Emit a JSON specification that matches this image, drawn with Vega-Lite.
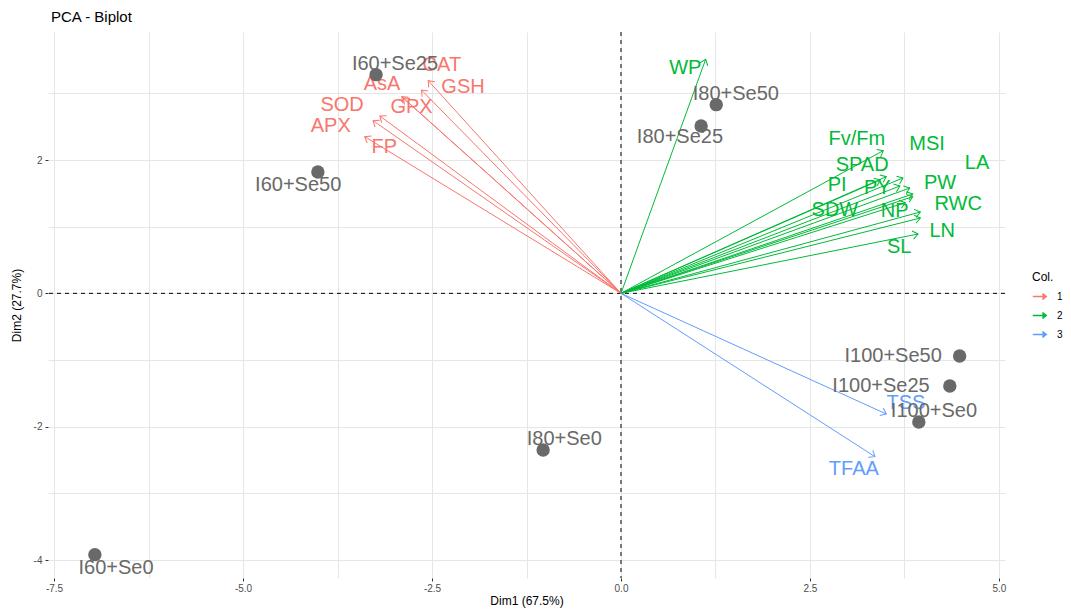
{
  "$schema": "https://vega.github.io/schema/vega-lite/v6.json",
  "autosize": {"type": "none"},
  "padding": {"left": 48, "top": 32, "right": 66, "bottom": 32},
  "width": 957,
  "height": 546,
  "background": "white",
  "config": {
    "view": {"stroke": null},
    "font": "Liberation Sans",
    "axis": {
      "grid": true,
      "gridColor": "#E6E6E6",
      "gridWidth": 1,
      "gridOpacity": 1,
      "domain": false,
      "tickColor": "#333333",
      "tickSize": 3,
      "labelColor": "#4D4D4D",
      "labelFontSize": 10,
      "labelFont": "Liberation Sans",
      "titleFont": "Liberation Sans",
      "titleFontSize": 12,
      "titleFontWeight": "normal",
      "titleColor": "#000000"
    }
  },
  "title": {
    "text": "PCA - Biplot",
    "anchor": "start",
    "frame": "group",
    "offset": 7,
    "fontSize": 15,
    "fontWeight": "normal",
    "font": "Liberation Sans",
    "color": "#000000",
    "dx": 3
  },
  "datasets": {
    "ind": [
      {"name": "I60+Se0", "x": -6.96, "y": -3.92, "lx": -6.68, "ly": -4.12},
      {"name": "I60+Se25", "x": -3.24, "y": 3.28, "lx": -2.99, "ly": 3.44},
      {"name": "I60+Se50", "x": -4.01, "y": 1.82, "lx": -4.27, "ly": 1.63},
      {"name": "I80+Se0", "x": -1.03, "y": -2.35, "lx": -0.75, "ly": -2.18},
      {"name": "I80+Se25", "x": 1.06, "y": 2.51, "lx": 0.78, "ly": 2.34},
      {"name": "I80+Se50", "x": 1.26, "y": 2.83, "lx": 1.52, "ly": 2.99},
      {"name": "I100+Se0", "x": 3.94, "y": -1.93, "lx": 4.14, "ly": -1.76},
      {"name": "I100+Se25", "x": 4.35, "y": -1.39, "lx": 3.44, "ly": -1.39},
      {"name": "I100+Se50", "x": 4.48, "y": -0.94, "lx": 3.6, "ly": -0.94}
    ],
    "var": [
      {"name": "CAT", "grp": "1", "x": -2.55, "y": 3.19, "lx": -2.37, "ly": 3.43},
      {"name": "GSH", "grp": "1", "x": -2.64, "y": 3.05, "lx": -2.09, "ly": 3.1},
      {"name": "AsA", "grp": "1", "x": -2.9, "y": 2.95, "lx": -3.16, "ly": 3.14},
      {"name": "GPX", "grp": "1", "x": -2.88, "y": 2.93, "lx": -2.77, "ly": 2.79},
      {"name": "SOD", "grp": "1", "x": -3.19, "y": 2.66, "lx": -3.69, "ly": 2.83},
      {"name": "APX", "grp": "1", "x": -3.28, "y": 2.59, "lx": -3.84, "ly": 2.51},
      {"name": "FP", "grp": "1", "x": -3.39, "y": 2.35, "lx": -3.13, "ly": 2.19},
      {"name": "WP", "grp": "2", "x": 1.12, "y": 3.51, "lx": 0.85, "ly": 3.38},
      {"name": "Fv/Fm", "grp": "2", "x": 3.47, "y": 2.14, "lx": 3.12, "ly": 2.32},
      {"name": "SPAD", "grp": "2", "x": 3.51, "y": 1.75, "lx": 3.19, "ly": 1.93},
      {"name": "PI", "grp": "2", "x": 3.43, "y": 1.7, "lx": 2.86, "ly": 1.63},
      {"name": "MSI", "grp": "2", "x": 3.73, "y": 1.73, "lx": 4.05, "ly": 2.24},
      {"name": "PY", "grp": "2", "x": 3.69, "y": 1.61, "lx": 3.39, "ly": 1.58},
      {"name": "LA", "grp": "2", "x": 3.82, "y": 1.58, "lx": 4.71, "ly": 1.96},
      {"name": "PW", "grp": "2", "x": 3.86, "y": 1.49, "lx": 4.22, "ly": 1.66},
      {"name": "RWC", "grp": "2", "x": 3.86, "y": 1.45, "lx": 4.46, "ly": 1.34},
      {"name": "SDW", "grp": "2", "x": 3.76, "y": 1.36, "lx": 2.83, "ly": 1.25},
      {"name": "NP", "grp": "2", "x": 3.96, "y": 1.22, "lx": 3.62, "ly": 1.23},
      {"name": "LN", "grp": "2", "x": 3.96, "y": 1.13, "lx": 4.25, "ly": 0.94},
      {"name": "SL", "grp": "2", "x": 3.93, "y": 0.89, "lx": 3.68, "ly": 0.7},
      {"name": "TSS", "grp": "3", "x": 3.51, "y": -1.81, "lx": 3.77, "ly": -1.64},
      {"name": "TFAA", "grp": "3", "x": 3.36, "y": -2.45, "lx": 3.08, "ly": -2.63}
    ]
  },
  "encoding": {
    "x": {
      "type": "quantitative",
      "scale": {"domain": [-7.58, 5.08], "nice": false, "zero": false},
      "axis": {
        "title": "Dim1 (67.5%)",
        "grid": true,
        "values": [-7.5, -6.25, -5, -3.75, -2.5, -1.25, 0, 1.25, 2.5, 3.75, 5],
        "labelExpr": "datum.value % 2.5 == 0 ? replace(format(datum.value, '.1f'), '\u2212', '-') : ''",
        "tickOpacity": {"condition": {"test": "datum.value % 2.5 != 0", "value": 0}, "value": 1},
        "labelPadding": 2,
        "titlePadding": 2
      }
    },
    "y": {
      "type": "quantitative",
      "scale": {"domain": [-4.27, 3.92], "nice": false, "zero": false},
      "axis": {
        "title": "Dim2 (27.7%)",
        "grid": true,
        "values": [-4, -3, -2, -1, 0, 1, 2, 3],
        "labelExpr": "datum.value % 2 == 0 ? '' + datum.value : ''",
        "tickOpacity": {"condition": {"test": "datum.value % 2 != 0", "value": 0}, "value": 1},
        "labelPadding": 3,
        "titlePadding": 10
      }
    }
  },
  "layer": [
    {
      "data": {"name": "ind"},
      "mark": {"type": "circle", "opacity": 0},
      "encoding": {
        "x": {"field": "x", "type": "quantitative"},
        "y": {"field": "y", "type": "quantitative"}
      }
    },
    {
      "data": {"values": [{}]},
      "mark": {"type": "rule", "strokeDash": [4, 4], "color": "#000000", "strokeWidth": 1},
      "encoding": {"x": {"datum": 0}, "y": null}
    },
    {
      "data": {"values": [{}]},
      "mark": {"type": "rule", "strokeDash": [4, 4], "color": "#000000", "strokeWidth": 1},
      "encoding": {"y": {"datum": 0}, "x": null}
    },
    {
      "data": {"name": "var"},
      "mark": {"type": "rule", "strokeWidth": 1},
      "encoding": {
        "x": {"field": "x", "type": "quantitative"},
        "y": {"field": "y", "type": "quantitative"},
        "x2": {"datum": 0},
        "y2": {"datum": 0},
        "color": {
          "field": "grp",
          "type": "nominal",
          "scale": {"domain": ["1", "2", "3"], "range": ["#F8766D", "#00BA38", "#619CFF"]},
          "legend": {
            "title": "Col.",
            "orient": "none",
            "legendX": 984,
            "legendY": 240,
            "titleFontSize": 12,
            "titleFontWeight": "normal",
            "titleColor": "#000000",
            "titleFont": "Liberation Sans",
            "labelFontSize": 10,
            "labelColor": "#000000",
            "labelFont": "Liberation Sans",
            "symbolType": "M-1,0L1,0M0.45,-0.45L1,0L0.45,0.45",
            "symbolSize": 180,
            "symbolStrokeWidth": 1.5,
            "rowPadding": 5,
            "labelOffset": 10
          }
        }
      }
    },
    {
      "data": {"name": "var"},
      "transform": [
        {"calculate": "(atan2(datum.x * 75.6, datum.y * 66.7) * 180 / PI + 360) % 360", "as": "ang"}
      ],
      "mark": {"type": "point", "shape": "M-0.7,0.9L0,0L0.7,0.9", "filled": false, "strokeWidth": 1, "opacity": 1},
      "encoding": {
        "x": {"field": "x", "type": "quantitative"},
        "y": {"field": "y", "type": "quantitative"},
        "angle": {"field": "ang", "type": "quantitative", "scale": null},
        "size": {"value": 140},
        "color": {"field": "grp", "type": "nominal", "legend": null}
      }
    },
    {
      "data": {"name": "var"},
      "mark": {"type": "text", "fontSize": 20, "font": "Liberation Sans", "align": "center", "baseline": "middle"},
      "encoding": {
        "x": {"field": "lx", "type": "quantitative"},
        "y": {"field": "ly", "type": "quantitative"},
        "text": {"field": "name"},
        "color": {"field": "grp", "type": "nominal", "legend": null}
      }
    },
    {
      "data": {"name": "ind"},
      "mark": {"type": "circle", "color": "#696969", "size": 180, "opacity": 1},
      "encoding": {
        "x": {"field": "x", "type": "quantitative"},
        "y": {"field": "y", "type": "quantitative"}
      }
    },
    {
      "data": {"name": "ind"},
      "mark": {"type": "text", "fontSize": 20, "font": "Liberation Sans", "align": "center", "baseline": "middle", "color": "#696969"},
      "encoding": {
        "x": {"field": "lx", "type": "quantitative"},
        "y": {"field": "ly", "type": "quantitative"},
        "text": {"field": "name"}
      }
    }
  ]
}
